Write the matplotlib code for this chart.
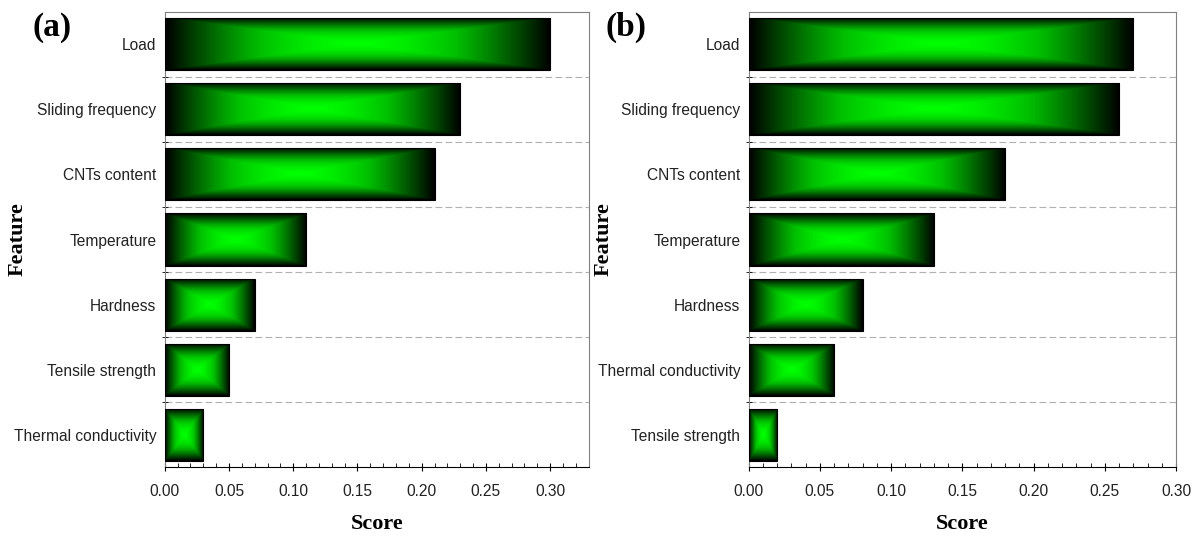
import numpy as np
import matplotlib.pyplot as plt
from matplotlib.colors import LinearSegmentedColormap
from matplotlib.ticker import MultipleLocator

# feature importance scores, top bar first
features_a = ["Load", "Sliding frequency", "CNTs content", "Temperature",
              "Hardness", "Tensile strength", "Thermal conductivity"]
scores_a = [0.30, 0.23, 0.21, 0.11, 0.07, 0.05, 0.03]

features_b = ["Load", "Sliding frequency", "CNTs content", "Temperature",
              "Hardness", "Thermal conductivity", "Tensile strength"]
scores_b = [0.27, 0.26, 0.18, 0.13, 0.08, 0.06, 0.02]

label_font = ["Liberation Sans", "DejaVu Sans"]
serif_font = ["Liberation Serif", "DejaVu Serif"]

green_cmap = LinearSegmentedColormap.from_list("box", ["#00ff00", "#00c000", "#006000", "#000000"])


def box_gradient(nx=200, ny=60):
    # rectangular gradient: bright in the middle, dark toward every edge
    u = np.abs(np.linspace(-1, 1, nx))
    v = np.abs(np.linspace(-1, 1, ny))
    t = np.maximum(u[None, :], v[:, None])
    return t ** 1.6


def draw_panel(ax, features, scores, xmax, tag, ylab_x, tag_x):
    y = np.arange(len(features))
    bars = ax.barh(y, scores, height=0.8, color="none", edgecolor="black", linewidth=0.8, zorder=3)
    grad = box_gradient()
    for b in bars:
        x0, y0 = b.get_x(), b.get_y()
        im = ax.imshow(grad, cmap=green_cmap, vmin=0, vmax=1, aspect="auto",
                       extent=[x0, x0 + b.get_width(), y0, y0 + b.get_height()],
                       interpolation="bilinear", zorder=2)
        im.set_clip_path(b)

    for sep in y[:-1] + 0.5:
        ax.axhline(sep, color="#b0b0b0", linestyle=(0, (6, 3)), linewidth=0.8, zorder=1)

    ax.set_xlim(0, xmax)
    ax.set_ylim(len(features) - 0.5, -0.5)
    ax.set_yticks(y)
    ax.set_yticklabels(features, family=label_font, fontsize=11.2, color="#222222")
    ax.set_yticks(y[:-1] + 0.5, minor=True)
    ax.tick_params(axis="y", which="major", length=0, pad=6)
    ax.tick_params(axis="y", which="minor", length=4, direction="inout", color="black")

    ax.xaxis.set_major_locator(MultipleLocator(0.05))
    ax.xaxis.set_minor_locator(MultipleLocator(0.01))
    ax.set_xticklabels([f"{v:.2f}" for v in ax.get_xticks()], family=label_font,
                       fontsize=11.2, color="#222222")
    ax.tick_params(axis="x", which="major", length=6, direction="inout", pad=9)
    ax.tick_params(axis="x", which="minor", length=3, direction="in")

    for side in ["top", "right", "left"]:
        ax.spines[side].set_color("#808080")
    ax.spines["bottom"].set_color("black")
    ax.set_xlabel("Score", family=serif_font, fontsize=16, fontweight="bold", labelpad=11)
    ax.set_ylabel("Feature", family=serif_font, fontsize=16, fontweight="bold")
    ax.yaxis.set_label_coords(ylab_x, 0.5)
    ax.text(tag_x, 1.0, tag, transform=ax.transAxes, family=serif_font,
            fontsize=24, fontweight="bold", va="top", ha="center")


fig = plt.figure(figsize=(11.94, 5.37), dpi=100)
ax_a = fig.add_axes([0.138, 0.130, 0.355, 0.848])
ax_b = fig.add_axes([0.627, 0.130, 0.358, 0.848])

draw_panel(ax_a, features_a, scores_a, 0.33, "(a)", -0.324, -0.267)
draw_panel(ax_b, features_b, scores_b, 0.30, "(b)", -0.316, -0.286)

fig.savefig("out.png", dpi=100)
